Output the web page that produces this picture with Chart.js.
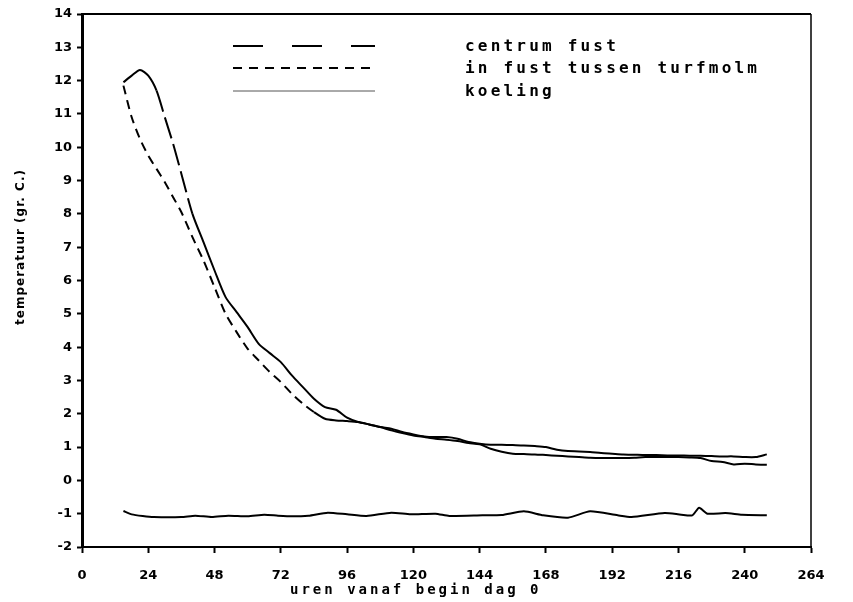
<!DOCTYPE html>
<html>
<head>
<meta charset="utf-8">
<script src="https://cdn.jsdelivr.net/npm/chart.js@4/dist/chart.umd.min.js"></script>
<style>
  body { margin: 0; background: #fff; }
  #wrap { width: 853px; height: 602px; }
</style>
</head>
<body>
<div id="wrap"><canvas id="tempChart"></canvas></div>
<script>
// Meetpunten (uren vanaf begin dag 0)
const hours = [15, 18, 21, 24, 27, 30, 33, 36,
  40, 44, 48, 52, 56, 60, 64, 68, 72, 76, 80, 84, 88, 92, 96, 100, 104, 108, 112, 116,
  120, 124, 128, 132, 136, 140, 144, 148, 152, 156, 160, 164, 168, 172, 176, 180, 184, 188,
  192, 196, 200, 204, 208, 212, 216, 220, 224, 228, 232, 236, 240, 244, 248];

const centrumFust = [11.95, 12.15, 12.32, 12.15, 11.7, 10.9, 10.1, 9.2,
  8.0, 7.15, 6.3, 5.5, 5.05, 4.6, 4.1, 3.82, 3.55, 3.15, 2.8, 2.45, 2.2, 2.12, 1.88, 1.75, 1.68, 1.6, 1.55, 1.45,
  1.38, 1.32, 1.3, 1.3, 1.25, 1.15, 1.1, 1.07, 1.07, 1.06, 1.05, 1.03, 1.0, 0.92, 0.88, 0.87, 0.85, 0.82,
  0.8, 0.78, 0.77, 0.76, 0.76, 0.75, 0.75, 0.74, 0.74, 0.73, 0.72, 0.72, 0.7, 0.7, 0.78];

const inFust = [11.85, 10.9, 10.25, 9.75, 9.35, 8.95, 8.5, 8.05,
  7.3, 6.6, 5.8, 5.0, 4.45, 3.95, 3.6, 3.25, 2.95, 2.6, 2.3, 2.05, 1.85, 1.8, 1.78, 1.75, 1.68, 1.6, 1.5, 1.42,
  1.35, 1.3, 1.25, 1.22, 1.18, 1.12, 1.08, 0.95, 0.86, 0.8, 0.79, 0.78, 0.76, 0.74, 0.72, 0.7, 0.68, 0.67,
  0.67, 0.67, 0.68, 0.7, 0.7, 0.7, 0.7, 0.69, 0.67, 0.58, 0.55, 0.48, 0.5, 0.48, 0.47];

// koeling heeft eigen meetmomenten (kleine pieken)
const koelingHours = [15, 18, 22, 26, 36, 41, 47, 53, 60, 66, 71, 76, 82, 89, 96, 103, 112, 119, 128, 133,
  145, 152, 160, 167, 176, 184, 194, 199, 211, 217, 221, 223.5, 226.5, 233, 239, 248];
const koeling = [-0.92, -1.02, -1.07, -1.1, -1.1, -1.06, -1.1, -1.06, -1.08, -1.03, -1.06, -1.08, -1.06, -0.97, -1.02, -1.07, -0.97, -1.02, -1.0, -1.07,
  -1.05, -1.04, -0.93, -1.05, -1.12, -0.93, -1.05, -1.1, -0.98, -1.03, -1.05, -0.82, -1.0, -0.98, -1.03, -1.05];

const seriesNames = ["centrum fust", "in fust tussen turfmolm", "koeling"];
const xTicks = [0, 24, 48, 72, 96, 120, 144, 168, 192, 216, 240, 264];
const xTitle = "uren vanaf begin dag 0";
const yTitle = "temperatuur (gr. C.)";

const toPoints = (xs, ys) => xs.map((x, i) => ({ x: x, y: ys[i] }));

// Legend samples, frame and axis titles drawn on the canvas
const plotterPlugin = {
  id: "plotter",
  afterDraw(chart) {
    const ctx = chart.ctx;
    const a = chart.chartArea;
    ctx.save();
    // top and right frame
    ctx.strokeStyle = "#000";
    ctx.lineWidth = 2;
    ctx.beginPath();
    ctx.moveTo(a.left, a.top);
    ctx.lineTo(a.right, a.top);
    ctx.stroke();
    ctx.lineWidth = 1.5;
    ctx.beginPath();
    ctx.moveTo(a.right, a.top);
    ctx.lineTo(a.right, a.bottom);
    ctx.stroke();

    // legend
    const legendDash = [[30, 29], [9, 7], []];
    const legendWidth = [2, 2, 1];
    const legendColor = ["#000", "#000", "#555"];
    const rows = [46, 68, 91];
    seriesNames.forEach((name, i) => {
      ctx.setLineDash(legendDash[i]);
      ctx.lineWidth = legendWidth[i];
      ctx.strokeStyle = legendColor[i];
      ctx.beginPath();
      ctx.moveTo(233, rows[i]);
      ctx.lineTo(375, rows[i]);
      ctx.stroke();
      ctx.setLineDash([]);
      ctx.fillStyle = "#000";
      ctx.font = "bold 16px 'DejaVu Sans Mono'";
      ctx.letterSpacing = "3.2px";
      ctx.textAlign = "left";
      ctx.textBaseline = "alphabetic";
      ctx.fillText(name, 465, rows[i] + 5);
    });

    // x title
    ctx.font = "bold 14px 'DejaVu Sans Mono'";
    ctx.letterSpacing = "3px";
    ctx.fillText(xTitle, 290, 594);

    // y title
    ctx.translate(21, 247);
    ctx.rotate(-Math.PI / 2);
    ctx.font = "bold 12px 'DejaVu Sans'";
    ctx.letterSpacing = "1px";
    ctx.textAlign = "center";
    ctx.textBaseline = "middle";
    ctx.fillText(yTitle, 0, 0);
    ctx.restore();
  }
};

const tickFont = { family: "'DejaVu Sans'", size: 13, weight: "bold" };

new Chart(document.getElementById("tempChart").getContext("2d"), {
  type: "line",
  data: {
    datasets: [{
      label: seriesNames[0],
      data: toPoints(hours, centrumFust),
      borderColor: "#000",
      borderWidth: 2,
      pointRadius: 0,
      tension: 0.25,
      fill: false,
      segment: {
        borderDash: c => (c.p0.parsed.x >= 27 && c.p0.parsed.x < 40) ? [22, 6] : undefined
      }
    }, {
      label: seriesNames[1],
      data: toPoints(hours, inFust),
      borderColor: "#000",
      borderWidth: 2,
      pointRadius: 0,
      tension: 0.25,
      fill: false,
      segment: {
        borderDash: c => c.p0.parsed.x < 84 ? [9, 6] : undefined
      }
    }, {
      label: seriesNames[2],
      data: toPoints(koelingHours, koeling),
      borderColor: "#000",
      borderWidth: 2,
      pointRadius: 0,
      tension: 0.2,
      fill: false
    }]
  },
  options: {
    responsive: true,
    maintainAspectRatio: false,
    animation: false,
    layout: { padding: { top: 14, right: 42, bottom: 0, left: 0 } },
    plugins: {
      legend: { display: false },
      tooltip: { enabled: false }
    },
    scales: {
      x: {
        type: "linear",
        min: 0,
        max: 264,
        afterBuildTicks: scale => { scale.ticks = xTicks.map(v => ({ value: v })); },
        afterFit: scale => { scale.height = 55; },
        grid: { drawOnChartArea: false, tickLength: 6, tickColor: "#000", tickWidth: 2 },
        border: { color: "#000", width: 2 },
        ticks: { color: "#000", font: tickFont, padding: 15, maxRotation: 0 }
      },
      y: {
        min: -2,
        max: 14,
        afterFit: scale => { scale.width = 82; },
        grid: { drawOnChartArea: false, tickLength: 5, tickColor: "#000", tickWidth: 2 },
        border: { color: "#000", width: 3 },
        ticks: { stepSize: 1, color: "#000", font: tickFont, padding: 5 }
      }
    }
  },
  plugins: [plotterPlugin]
});
</script>
</body>
</html>
